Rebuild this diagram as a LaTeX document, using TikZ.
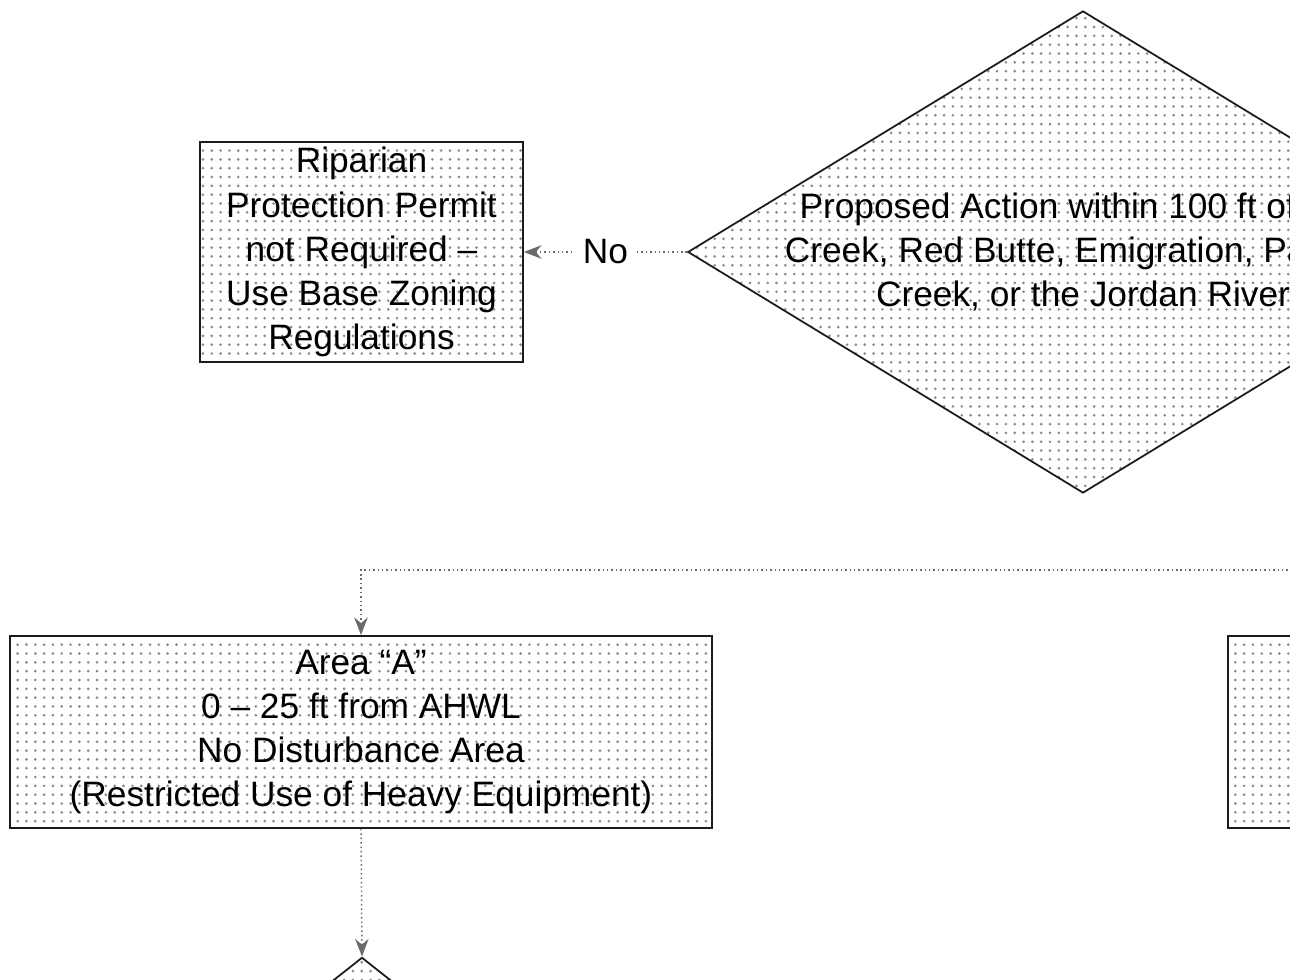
\documentclass[tikz,border=0pt]{standalone}
\usepackage{fontspec}
\setmainfont{Liberation Sans}
\usetikzlibrary{arrows.meta,shapes.geometric,patterns}
\definecolor{ink}{HTML}{1C1C1C}
\definecolor{stipple}{HTML}{8A8A8A}
\definecolor{wire}{HTML}{6A6A6A}

\begin{document}
\begin{tikzpicture}[x=0.34pt,y=-0.34pt,>={Stealth[length=6pt,width=4.6pt]},
  box/.style={draw=ink,line width=0.6pt,pattern=dots,pattern color=stipple,
    align=center,inner sep=0pt,font=\fontsize{12}{15}\selectfont},
  query/.style={box,shape=diamond},
  link/.style={->,draw=wire,densely dotted,line width=0.5pt},
  lbl/.style={fill=white,inner sep=3pt,font=\fontsize{12}{15}\selectfont}]
\useasboundingbox (0,0) rectangle (1290,980);
\clip (0,0) rectangle (1290,980);
% decision and its No branch
\node[query,aspect=1.64,minimum width=268.6pt,minimum height=163.9pt] (within) at (1083,252)
  {Proposed Action within 100 ft of City\\Creek, Red Butte, Emigration, Parleys\\Creek, or the Jordan River};
\node[box,minimum width=109.8pt,minimum height=74.8pt] (nopermit) at (361.5,252)
  {Riparian\\Protection Permit\\not Required --\\Use Base Zoning\\Regulations};
\draw[link] (within.west) -- node[lbl]{No} (nopermit.east);
% buffer areas
\node[box,minimum width=238.7pt,minimum height=65.3pt] (areaA) at (361,732)
  {Area ``A''\\0 -- 25 ft from AHWL\\No Disturbance Area\\(Restricted Use of Heavy Equipment)};
\node[box,minimum width=238.7pt,minimum height=65.3pt] (areaB) at (1579,732) {};
\coordinate (fork) at (1579,570);
\draw[link] (fork) -| (areaA.north);
% next decision below area A
\node[query,aspect=1.27,minimum width=190pt,minimum height=150pt] (nextq) at (362,1178) {};
\draw[link] (areaA.south) -- (nextq.north);
\end{tikzpicture}
\end{document}
